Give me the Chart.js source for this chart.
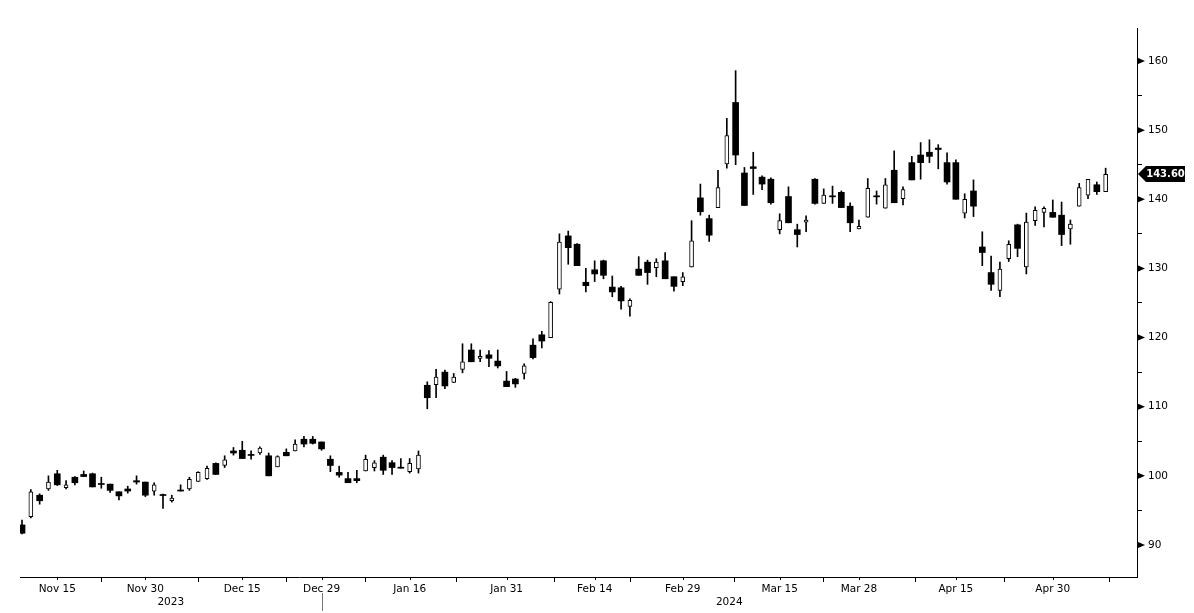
<!DOCTYPE html>
<html>
<head>
<meta charset="utf-8">
<title>Daily candles</title>
<script src="https://cdn.jsdelivr.net/npm/chart.js@4.4.1/dist/chart.umd.min.js"></script>
<style>
  html, body { margin: 0; padding: 0; background: #fff; }
  #wrap { width: 1194px; height: 613px; }
</style>
</head>
<body>
<div id="wrap"><canvas id="chart" width="1194" height="613"></canvas></div>
<script>
'use strict';

// ── Data ────────────────────────────────────────────────────────────────
const dates = [
  '2023-11-09', '2023-11-10', '2023-11-13', '2023-11-14', '2023-11-15', '2023-11-16', '2023-11-17',
  '2023-11-20', '2023-11-21', '2023-11-22', '2023-11-24', '2023-11-27', '2023-11-28', '2023-11-29', '2023-11-30',
  '2023-12-01', '2023-12-04', '2023-12-05', '2023-12-06', '2023-12-07', '2023-12-08', '2023-12-11',
  '2023-12-12', '2023-12-13', '2023-12-14', '2023-12-15', '2023-12-18', '2023-12-19', '2023-12-20',
  '2023-12-21', '2023-12-22', '2023-12-26', '2023-12-27', '2023-12-28', '2023-12-29',
  '2024-01-02', '2024-01-03', '2024-01-04', '2024-01-05', '2024-01-08', '2024-01-09', '2024-01-10',
  '2024-01-11', '2024-01-12', '2024-01-16', '2024-01-17', '2024-01-18', '2024-01-19', '2024-01-22',
  '2024-01-23', '2024-01-24', '2024-01-25', '2024-01-26', '2024-01-29', '2024-01-30', '2024-01-31',
  '2024-02-01', '2024-02-02', '2024-02-05', '2024-02-06', '2024-02-07', '2024-02-08', '2024-02-09',
  '2024-02-12', '2024-02-13', '2024-02-14', '2024-02-15', '2024-02-16', '2024-02-20', '2024-02-21',
  '2024-02-22', '2024-02-23', '2024-02-26', '2024-02-27', '2024-02-28', '2024-02-29',
  '2024-03-01', '2024-03-04', '2024-03-05', '2024-03-06', '2024-03-07', '2024-03-08', '2024-03-11',
  '2024-03-12', '2024-03-13', '2024-03-14', '2024-03-15', '2024-03-18', '2024-03-19', '2024-03-20',
  '2024-03-21', '2024-03-22', '2024-03-25', '2024-03-26', '2024-03-27', '2024-03-28',
  '2024-04-01', '2024-04-02', '2024-04-03', '2024-04-04', '2024-04-05', '2024-04-08', '2024-04-09',
  '2024-04-10', '2024-04-11', '2024-04-12', '2024-04-15', '2024-04-16', '2024-04-17', '2024-04-18',
  '2024-04-19', '2024-04-22', '2024-04-23', '2024-04-24', '2024-04-25', '2024-04-26', '2024-04-29',
  '2024-04-30', '2024-05-01', '2024-05-02', '2024-05-03', '2024-05-06', '2024-05-07', '2024-05-08'
];

const opens = [
  92.9, 94.1, 97.2, 98.1, 100.3, 98.3, 99.8, 100.2, 100.3, 98.9,
  98.8, 97.7, 98.1, 99.3, 99.1, 97.8, 97.3, 96.4, 97.95, 98.1,
  99.2, 99.6, 101.8, 101.5, 103.6, 103.7, 103.1, 103.3, 102.9, 101.3,
  103.4, 103.6, 105.3, 105.3, 104.9, 102.4, 100.5, 99.6, 99.6, 100.7,
  101.2, 102.7, 101.9, 101.25, 100.6, 101.0, 113.1, 113.2, 115.0, 113.5,
  115.4, 118.2, 117.0, 117.5, 116.6, 113.7, 114.0, 114.8, 118.9, 120.4,
  120.0, 127.0, 134.7, 133.5, 128.0, 129.8, 131.1, 127.3, 127.2, 124.5,
  129.9, 130.9, 130.1, 131.1, 128.8, 128.1, 130.2, 140.2, 137.2, 138.8,
  145.1, 154.0, 143.8, 144.7, 143.2, 142.9, 135.6, 140.4, 135.6, 136.7,
  142.9, 139.4, 140.5, 141.0, 139.0, 135.7, 137.4, 140.5, 138.7, 144.2,
  140.1, 145.3, 146.4, 146.8, 147.4, 145.3, 145.3, 138.0, 141.2, 133.1,
  129.4, 126.8, 131.4, 136.3, 130.2, 136.9, 138.1, 138.1, 137.7, 135.7,
  139.0, 140.6, 142.1, 141.1
];
const highs = [
  93.6, 98.0, 97.4, 100.0, 100.8, 99.3, 99.9, 100.7, 100.4, 99.8,
  98.8, 97.7, 98.5, 100.0, 99.1, 99.0, 97.35, 97.2, 98.7, 99.8,
  100.6, 101.4, 101.9, 102.9, 104.1, 105.0, 103.6, 104.2, 103.3, 102.9,
  103.9, 105.2, 105.7, 105.7, 104.9, 102.9, 101.4, 100.5, 100.8, 103.0,
  102.2, 103.0, 102.2, 102.5, 102.5, 103.6, 113.6, 115.4, 115.3, 114.8,
  119.1, 119.1, 118.2, 118.1, 118.2, 115.1, 114.1, 116.2, 119.8, 120.9,
  125.2, 135.0, 135.4, 133.6, 130.0, 131.1, 131.2, 128.9, 127.4, 125.6,
  131.7, 131.2, 131.4, 132.3, 128.8, 129.4, 136.9, 142.2, 137.7, 144.2,
  151.7, 158.6, 144.6, 146.8, 143.4, 143.1, 137.9, 141.8, 136.4, 137.6,
  143.0, 141.5, 141.9, 141.2, 139.5, 137.0, 143.0, 141.2, 143.0, 147.0,
  141.8, 146.2, 148.2, 148.6, 147.9, 146.7, 145.7, 140.8, 142.8, 135.3,
  131.8, 130.9, 134.0, 136.4, 138.0, 138.9, 138.9, 139.9, 139.6, 137.0,
  142.3, 142.9, 142.5, 144.5
];
const lows = [
  91.6, 93.9, 95.9, 97.9, 98.6, 98.1, 98.7, 99.9, 98.4, 98.2,
  97.6, 96.5, 97.5, 98.8, 97.0, 97.2, 95.3, 96.2, 97.8, 97.9,
  99.2, 99.5, 100.2, 101.2, 103.0, 102.5, 102.4, 103.1, 100.0, 101.3,
  102.9, 103.6, 104.2, 104.6, 103.7, 100.6, 99.8, 99.0, 99.0, 100.7,
  100.7, 100.2, 100.2, 101.1, 100.4, 100.4, 109.7, 111.3, 112.6, 113.5,
  114.9, 116.5, 116.5, 115.8, 115.6, 112.9, 112.8, 114.0, 116.9, 118.5,
  120.0, 126.3, 130.6, 130.4, 126.6, 128.1, 128.5, 125.9, 124.1, 123.1,
  129.0, 127.7, 128.8, 128.5, 126.7, 127.5, 130.2, 137.7, 133.9, 138.8,
  144.5, 145.0, 139.1, 140.7, 141.4, 139.3, 135.0, 136.6, 133.1, 135.3,
  139.3, 139.4, 139.4, 138.8, 135.3, 135.7, 137.4, 139.3, 138.7, 139.5,
  139.2, 142.8, 142.9, 145.3, 144.4, 142.2, 140.0, 137.3, 137.5, 130.4,
  126.8, 125.9, 131.0, 131.7, 129.2, 136.2, 136.0, 137.4, 133.3, 133.5,
  139.0, 140.1, 140.7, 141.1
];
const closes = [
  91.7, 97.7, 96.4, 99.1, 98.7, 98.7, 99.0, 99.9, 98.4, 98.75,
  97.9, 97.1, 97.8, 99.1, 97.2, 98.7, 97.15, 96.8, 97.8, 99.5,
  100.5, 101.1, 100.2, 102.3, 103.3, 102.5, 102.95, 104.0, 100.0, 102.8,
  102.9, 104.6, 104.6, 104.7, 103.9, 101.5, 100.1, 99.0, 99.3, 102.4,
  101.9, 100.8, 101.2, 101.1, 101.8, 103.0, 111.3, 114.3, 113.0, 114.3,
  116.5, 116.5, 117.3, 117.0, 115.9, 112.9, 113.3, 115.9, 117.1, 119.5,
  125.1, 133.8, 133.0, 130.4, 127.5, 129.2, 129.0, 126.6, 125.3, 125.4,
  129.0, 129.4, 130.9, 128.5, 127.4, 128.8, 134.0, 138.2, 134.8, 141.7,
  149.2, 146.4, 139.1, 144.45, 142.2, 139.5, 136.9, 136.6, 134.9, 137.0,
  139.4, 140.6, 140.35, 138.8, 136.6, 136.1, 141.6, 140.35, 142.1, 139.5,
  141.4, 142.8, 145.3, 146.2, 147.2, 142.5, 140.0, 140.0, 139.0, 132.3,
  127.7, 129.9, 133.5, 132.9, 136.7, 138.4, 138.7, 137.4, 134.9, 136.4,
  141.7, 142.9, 141.1, 143.6
];

// x-axis date labels and where they sit
const tickDates = ['2023-11-15', '2023-11-30', '2023-12-15', '2023-12-29', '2024-01-16', '2024-01-31',
  '2024-02-14', '2024-02-29', '2024-03-15', '2024-03-28', '2024-04-15', '2024-04-30'];
const tickLabels = ['Nov 15', 'Nov 30', 'Dec 15', 'Dec 29', 'Jan 16', 'Jan 31',
  'Feb 14', 'Feb 29', 'Mar 15', 'Mar 28', 'Apr 15', 'Apr 30'];
// longer tick marks between the date labels (in bar index units)
const markPositions = [9, 20, 30, 39, 49.3, 60.4, 69.1, 80.9, 91, 101.4, 111.5, 123.4];
const yearLabels = ['2023', '2024'];
const yearEnd = '2023-12-29';
const yTicksMajor = [90, 100, 110, 120, 130, 140, 150, 160];
const yTicksMinor = [95, 105, 115, 125, 135, 145, 155];

// ── Build datasets ──────────────────────────────────────────────────────
const upBodies = [], downBodies = [], wicks = [];
closes.forEach((c, i) => {
  const o = opens[i];
  wicks.push({ x: i, y: [lows[i], highs[i]] });
  if (c >= o) upBodies.push({ x: i, y: [o, c] });
  else downBodies.push({ x: i, y: [o, c] });
});

const X_MIN = -0.23, X_MAX = 126.56;
const sepIdx = dates.indexOf(yearEnd);
const lastClose = closes[closes.length - 1];

const decor = {
  id: 'decor',
  afterDraw(chart) {
    const { ctx, chartArea: a, scales: { x, y } } = chart;
    ctx.save();
    ctx.strokeStyle = '#000';
    ctx.lineWidth = 1;

    // small marks under each date label
    tickDates.forEach(d => {
      const px = Math.round(x.getPixelForValue(dates.indexOf(d))) + 0.5;
      ctx.beginPath(); ctx.moveTo(px, a.bottom); ctx.lineTo(px, a.bottom + 3); ctx.stroke();
    });

    // year separator
    const sx = Math.round(x.getPixelForValue(sepIdx)) + 0.5;
    ctx.strokeStyle = '#777';
    ctx.beginPath(); ctx.moveTo(sx, a.bottom + 16); ctx.lineTo(sx, a.bottom + 34); ctx.stroke();

    // arrow heads on the major price ticks
    ctx.fillStyle = '#000';
    yTicksMajor.forEach(v => {
      const py = y.getPixelForValue(v);
      ctx.beginPath();
      ctx.moveTo(a.right, py - 3.5);
      ctx.lineTo(a.right + 8, py);
      ctx.lineTo(a.right, py + 3.5);
      ctx.closePath(); ctx.fill();
    });

    // last price tag
    const ly = Math.round(y.getPixelForValue(lastClose));
    const tip = a.right + 1;
    ctx.beginPath();
    ctx.moveTo(tip, ly);
    ctx.lineTo(tip + 8, ly - 8);
    ctx.lineTo(1185, ly - 8);
    ctx.lineTo(1185, ly + 8);
    ctx.lineTo(tip + 8, ly + 8);
    ctx.closePath();
    ctx.fill();
    ctx.fillStyle = '#fff';
    ctx.font = 'bold 10px "DejaVu Sans"';
    ctx.textAlign = 'center';
    ctx.textBaseline = 'middle';
    ctx.fillText(lastClose.toFixed(2), (tip + 8 + 1185) / 2, ly + 0.5);
    ctx.restore();
  }
};

Chart.defaults.font.family = '"DejaVu Sans", sans-serif';
Chart.defaults.font.size = 10.5;
Chart.defaults.color = '#000';

new Chart(document.getElementById('chart'), {
  type: 'bar',
  data: {
    datasets: [
      {
        label: 'Up',
        data: upBodies,
        backgroundColor: '#fff',
        borderColor: '#000',
        borderWidth: 1,
        borderSkipped: false,
        barThickness: 4,
        minBarLength: 1,
        grouped: false,
        order: 0
      },
      {
        label: 'Down',
        data: downBodies,
        backgroundColor: '#000',
        borderWidth: 0,
        barThickness: 6,
        minBarLength: 1,
        grouped: false,
        order: 0
      },
      {
        label: 'Range',
        data: wicks,
        backgroundColor: '#000',
        borderWidth: 0,
        barThickness: 1,
        grouped: false,
        order: 1
      }
    ]
  },
  options: {
    responsive: false,
    animation: false,
    events: [],
    layout: { padding: { left: 20, top: 28, right: 0, bottom: 0 } },
    plugins: { legend: { display: false }, tooltip: { enabled: false } },
    scales: {
      x: {
        type: 'linear',
        offset: false,
        min: X_MIN,
        max: X_MAX,
        afterBuildTicks: s => {
          const t = tickDates.map((d, k) => ({ value: dates.indexOf(d), text: tickLabels[k] }));
          t.push({ value: (X_MIN + sepIdx) / 2, text: ['', yearLabels[0]] });
          t.push({ value: (sepIdx + X_MAX) / 2, text: ['', yearLabels[1]] });
          markPositions.forEach(v => t.push({ value: v, text: '', mark: true }));
          s.ticks = t.sort((p, q) => p.value - q.value);
        },
        afterFit: s => { s.height = 36; },
        ticks: {
          autoSkip: false,
          maxRotation: 0,
          minRotation: 0,
          padding: 0,
          font: { size: 10.5, lineHeight: 1.3 },
          callback: (v, i, ticks) => ticks[i].text
        },
        grid: {
          offset: false,
          drawOnChartArea: false,
          drawTicks: true,
          tickLength: 5,
          color: c => (c.tick && c.tick.mark) ? '#000' : 'rgba(0,0,0,0)'
        },
        border: { display: true, color: '#000', width: 1 }
      },
      y: {
        type: 'linear',
        position: 'right',
        min: 85.37,
        max: 164.77,
        afterBuildTicks: s => {
          s.ticks = yTicksMajor.concat(yTicksMinor).sort((p, q) => p - q).map(v => ({ value: v }));
        },
        afterFit: s => { s.width = 57; },
        ticks: {
          autoSkip: false,
          padding: 6,
          callback: v => (yTicksMajor.includes(v) ? String(v) : '')
        },
        grid: {
          drawOnChartArea: false,
          drawTicks: true,
          tickLength: 5,
          color: c => (c.tick && yTicksMinor.includes(c.tick.value)) ? '#000' : 'rgba(0,0,0,0)'
        },
        border: { display: true, color: '#000', width: 1 }
      }
    }
  },
  plugins: [decor]
});
</script>
</body>
</html>
